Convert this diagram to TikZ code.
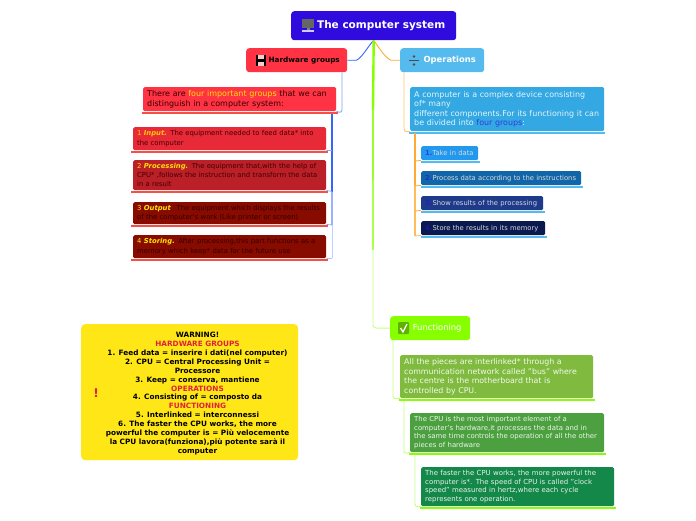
\documentclass[tikz,border=0pt]{standalone}
\usepackage{fontspec}
\setmainfont{DejaVu Sans}
\usetikzlibrary{positioning,calc}
\definecolor{rootblue}{HTML}{2F0BDD}
\definecolor{hwred}{HTML}{FF3344}
\definecolor{hwbar}{HTML}{F55048}
\definecolor{inred}{HTML}{E82A38}
\definecolor{prored}{HTML}{BB2028}
\definecolor{outred}{HTML}{880B00}
\definecolor{opblue}{HTML}{55BBEE}
\definecolor{opdark}{HTML}{33A8E2}
\definecolor{takeblue}{HTML}{2299EE}
\definecolor{procblue}{HTML}{1166AA}
\definecolor{showblue}{HTML}{1E3A8A}
\definecolor{storeblue}{HTML}{0A1A50}
\definecolor{fnlime}{HTML}{88FF00}
\definecolor{fnone}{HTML}{80BB40}
\definecolor{fntwo}{HTML}{4CA040}
\definecolor{fnthree}{HTML}{148848}
\definecolor{warnyellow}{HTML}{FFE616}
\definecolor{warnred}{HTML}{E0203A}
\definecolor{linkblue}{HTML}{3366FF}
\definecolor{linkorange}{HTML}{FFAA33}
\tikzset{
	topic/.style={rounded corners=3pt,anchor=north west,inner sep=0pt,font=\fontsize{8.4}{10}\selectfont\bfseries},
	note/.style={rounded corners=1.5pt,anchor=north west,align=left,inner xsep=4pt,inner ysep=0pt,font=\fontsize{8}{9.9}\selectfont},
	small/.style={note,font=\fontsize{6.85}{9.2}\selectfont},
	tiny/.style={note,font=\fontsize{6.8}{8}\selectfont,text=white!85!black,minimum height=14pt},
	hwbarline/.style={hwbar,line width=2.8pt},
	opbarline/.style={opblue,line width=2.8pt},
	fnbarline/.style={fnlime,line width=2.8pt},
	blink/.style={linkblue!60,line width=.9pt,rounded corners=3pt},
	olink/.style={linkorange!70,line width=.9pt,rounded corners=3pt},
	glink/.style={fnlime!50!white,line width=.9pt,rounded corners=3pt}
}
\begin{document}
\begin{tikzpicture}[x=1pt,y=-1pt]
	\useasboundingbox (0,0) rectangle (696,520);
	\fill[white] (0,0) rectangle (696,520);
	%
	% main topics
	\fill (291,11) node[topic,fill=rootblue,minimum width=165pt,minimum height=29pt,text=white,font=\fontsize{10.5}{12}\selectfont\bfseries] (root) {\hspace{15pt}The computer system};
	\fill (246,48) node[topic,fill=hwred,minimum width=101pt,minimum height=24pt,text=black,font=\fontsize{7.3}{10}\selectfont\bfseries] (hw) {\hspace{15pt}Hardware groups};
	\fill (400,48) node[topic,fill=opblue,minimum width=84pt,minimum height=24pt,text=white] (ops) {\hspace{15pt}Operations};
	\fill (390,316) node[topic,fill=fnlime,minimum width=80pt,minimum height=24pt,text=white,font=\fontsize{8.4}{10}\selectfont] (fn) {\hspace{14pt}Functioning};
	%
	% hardware groups
	\fill (143,87) node[note,fill=hwred,text width=185pt,minimum height=24pt,text=black!80!red] (hwtxt) {There are \textcolor{yellow!85!orange}{four important groups} that we can\\distinguish in a computer system:};
	\fill (133,127) node[small,fill=inred,text width=185pt,minimum height=23pt,text=black!75!red] (input) {\textcolor{yellow!60!orange}{1 \textbf{\textit{Input.}}} The equipment needed to feed data* into\\the computer};
	\fill (133,160) node[small,fill=prored,text width=185pt,minimum height=30pt,text=black!75!red] (proc) {\textcolor{yellow!80!orange}{2 \textbf{\textit{Processing.}}} The equipment that,with the help of\\CPU* ,follows the instruction and transform the data\\in a result};
	\fill (133,202) node[small,fill=outred,text width=185pt,minimum height=22pt,text=black!80!red] (out) {\textcolor{yellow!90!orange}{3 \textbf{\textit{Output}}}. The equipment which displays the results\\of the computer's work (Like printer or screen)};
	\fill (133,235) node[small,fill=outred,text width=185pt,minimum height=23pt,text=black!80!red] (store) {\textcolor{yellow!90!orange}{4 \textbf{\textit{Storing.}}} After processing,this part functions as a\\memory which keep* data for the future use};
	%
	% operations
	\fill (410,87) node[note,fill=opdark,text width=186pt,minimum height=44pt,text=white!85!opblue,font=\fontsize{7.95}{9.4}\selectfont] (optxt) {A computer is a complex device consisting\\of* many\\different components.For its functioning it can\\be divided into \textcolor{rootblue!70!opdark}{four groups}:};
	\fill (421,146) node[tiny,fill=takeblue,text width=49pt] (take) {\textcolor{rootblue!60!takeblue}{\textbf{1.}}Take in data};
	\fill (421,171) node[tiny,fill=procblue,text width=152pt] (procdata) {\textcolor{rootblue!60!procblue}{\textbf{2.}}Process data according to the instructions};
	\fill (421,196) node[tiny,fill=showblue,text width=114pt] (show) {\textcolor{rootblue!60!showblue}{\textbf{3.}}Show results of the processing};
	\fill (421,221) node[tiny,fill=storeblue,text width=116pt] (keep) {\textcolor{rootblue!60!storeblue}{\textbf{4.}}Store the results in its memory};
	%
	% functioning
	\fill (400,355) node[note,fill=fnone,text width=185pt,minimum height=43pt,text=white!90!fnone,font=\fontsize{7.85}{9.6}\selectfont] (fntxt) {All the pieces are interlinked* through a\\communication network called "bus" where\\the centre is the motherboard that is\\controlled by CPU.};
	\fill (410,413) node[small,fill=fntwo,text width=186pt,minimum height=39pt,text=white!90!fntwo,font=\fontsize{6.9}{8.7}\selectfont] (cpu) {The CPU is the most important element of a\\computer's hardware,it processes the data and in\\the same time controls the operation of all the other\\pieces of hardware};
	\fill (421,467) node[small,fill=fnthree,text width=185pt,minimum height=39pt,text=white!90!fnthree,font=\fontsize{6.95}{8.7}\selectfont] (speed) {The faster the CPU works, the more powerful the\\computer is*. The speed of CPU is called "clock\\speed" measured in hertz,where each cycle\\represents one operation.};
	%
	% warning box
	\fill (81,324) node[rounded corners=4pt,anchor=north west,fill=warnyellow,minimum width=217pt,minimum height=136pt,inner sep=0pt] (warn) {};
	\fill (197.5,393.5) node[align=center,inner sep=0pt,font=\fontsize{7.3}{8.9}\selectfont\bfseries] (warntxt) {WARNING!\\\textcolor{warnred}{HARDWARE GROUPS}\\1. Feed data = inserire i dati(nel computer)\\2. CPU = Central Processing Unit =\\Processore\\3. Keep = conserva, mantiene\\\textcolor{warnred}{OPERATIONS}\\4. Consisting of = composto da\\\textcolor{warnred}{FUNCTIONING}\\5. Interlinked = interconnessi\\6. The faster the CPU works, the more\\powerful the computer is = Più velocemente\\la CPU lavora(funziona),più potente sarà il\\computer};
	\fill (96,393) node[inner sep=0pt,text=warnred,font=\fontsize{12}{12}\selectfont\bfseries] (mark) {!};
	%
	% icons
	\fill[black!60] (302,19) rectangle (314,28);
	\fill[black!50] (306.5,28) rectangle (309.5,30);
	\fill[white!80!blue] (302,30) rectangle (314,31.5);
	\fill[black] (255.5,55) rectangle (265.5,65.5);
	\fill[white!80!red] (257.5,55) rectangle (263.5,59);
	\fill[white!80!red] (257.5,61.5) rectangle (263.5,65.5);
	\fill[black!70] (409,60) rectangle (419,61);
	\fill[black!70] (414,56.5) circle (1.3pt);
	\fill[black!70] (414,64.5) circle (1.3pt);
	\fill[fnlime!70!black,rounded corners=1pt] (398,322) rectangle (409,334);
	\draw[white,line width=1.3pt] (400.5,328) -- (403,332) -- (407,324);
	%
	% bars under the nodes
	\path[draw,hwbarline] (hwtxt.south west) ++(-1,1.5) -- ($(hwtxt.south east)+(2,1.5)$);
	\path[draw,hwbarline] (input.south west) ++(-2,1.5) -- ($(input.south east)+(2,1.5)$);
	\path[draw,hwbarline] (proc.south west) ++(-2,1.5) -- ($(proc.south east)+(2,1.5)$);
	\path[draw,hwbarline] (out.south west) ++(-2,1.5) -- ($(out.south east)+(2,1.5)$);
	\path[draw,hwbarline] (store.south west) ++(-2,1.5) -- ($(store.south east)+(2,1.5)$);
	\path[draw,opbarline] (optxt.south west) ++(-1,1.5) -- ($(optxt.south east)+(1,1.5)$);
	\path[draw,opbarline] (take.south west) ++(0,1.5) -- ($(take.south east)+(2,1.5)$);
	\path[draw,opbarline] (procdata.south west) ++(0,1.5) -- ($(procdata.south east)+(2,1.5)$);
	\path[draw,opbarline] (show.south west) ++(0,1.5) -- ($(show.south east)+(2,1.5)$);
	\path[draw,opbarline] (keep.south west) ++(0,1.5) -- ($(keep.south east)+(2,1.5)$);
	\path[draw,fnbarline] (fntxt.south west) ++(-1,1.5) -- ($(fntxt.south east)+(2,1.5)$);
	\path[draw,fnbarline] (cpu.south west) ++(-1,1.5) -- ($(cpu.south east)+(2,1.5)$);
	\path[draw,fnbarline] (speed.south west) ++(-1,1.5) -- ($(speed.south east)+(2,1.5)$);
	%
	% links from the root
	\draw[linkblue,line width=.9pt] (hw.east) -- ++(9,0) .. controls (362,58) and (368,46) .. (root.south);
	\draw[linkorange,line width=.9pt] (ops.west) -- ++(-9,0) .. controls (385,58) and (378,46) .. (root.south);
	\draw[fnlime,line width=2.4pt] (root.south) -- (373,110);
	\draw[fnlime!85!white,line width=1.8pt] (373,110) -- (373,180);
	\draw[fnlime!70!white,line width=1.3pt] (373,180) -- (373,250);
	\draw[glink] (373,250) -- (373,328) -- (fn.west);
	%
	% links inside the groups
	\draw[blink] (hw.south -| 342,0) -- (342,113) -- (hwtxt.south east);
	\draw[linkblue,line width=1.6pt] (332,114) -- (332,192);
	\draw[linkblue!50,line width=1.2pt] (332,192) -- (332,225);
	\draw[linkblue!30,line width=1pt] (332,225) -- (332,258);
	\draw[linkblue!60,line width=.7pt] (332,150.5) -- (input.south east);
	\draw[linkblue!60,line width=.7pt] (332,191.5) -- (proc.south east);
	\draw[linkblue!60,line width=.7pt] (332,225) -- (out.south east);
	\draw[linkblue!40,line width=.7pt] (332,258.5) -- (store.south east);
	%
	\draw[olink] (404,72) -- (404,132) -- (optxt.south west);
	\draw[linkorange,line width=1.3pt] (415,133) -- (415,185);
	\draw[linkorange!80,line width=1.1pt] (415,185) -- (415,236);
	\draw[linkorange,line width=.8pt] (415,161) -- (take.south west);
	\draw[linkorange,line width=.8pt] (415,186) -- (procdata.south west);
	\draw[linkorange,line width=.8pt] (415,211) -- (show.south west);
	\draw[linkorange!80,line width=.8pt] (415,236) -- (keep.south west);
	%
	\draw[glink] (393,340) -- (393,399) -- (fntxt.south west);
	\draw[glink] (404,401) -- (404,454) -- (cpu.south west);
	\draw[glink] (415,455) -- (415,507) -- (speed.south west);
\end{tikzpicture}
\end{document}
